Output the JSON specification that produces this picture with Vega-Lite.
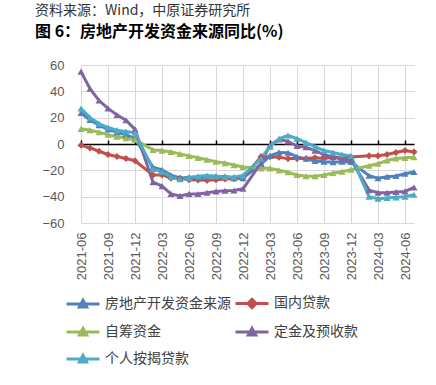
{
  "$schema": "https://vega.github.io/schema/vega-lite/v6.json",
  "width": 333,
  "height": 158,
  "autosize": {"type": "none"},
  "padding": {"left": 81, "top": 65, "right": 22, "bottom": 162},
  "background": "white",
  "config": {"view": {"stroke": null}, "font": "Liberation Sans"},
  "title": {
    "text": "资料来源：Wind，中原证券研究所",
    "subtitle": "图 6：房地产开发资金来源同比(%)",
    "anchor": "start",
    "frame": "group",
    "dx": -46,
    "offset": 19,
    "font": "Noto Sans CJK SC",
    "fontSize": 14,
    "fontWeight": "normal",
    "color": "#333333",
    "subtitleFont": "Noto Sans CJK SC",
    "subtitleFontSize": 16,
    "subtitleFontWeight": "bold",
    "subtitleColor": "#000000",
    "subtitlePadding": 6
  },
  "data": {
    "values": [
      {"m": "2021-06", "房地产开发资金来源": 23.5, "国内贷款": -1, "自筹资金": 11.5, "定金及预收款": 55, "个人按揭贷款": 27},
      {"m": "2021-07", "房地产开发资金来源": 18.2, "国内贷款": -3, "自筹资金": 10.5, "定金及预收款": 42, "个人按揭贷款": 20},
      {"m": "2021-08", "房地产开发资金来源": 14.3, "国内贷款": -5.5, "自筹资金": 9, "定金及预收款": 33, "个人按揭贷款": 15.5},
      {"m": "2021-09", "房地产开发资金来源": 11.1, "国内贷款": -8, "自筹资金": 7, "定金及预收款": 27, "个人按揭贷款": 12.5},
      {"m": "2021-10", "房地产开发资金来源": 8.8, "国内贷款": -9.5, "自筹资金": 5.5, "定金及预收款": 22, "个人按揭贷款": 10.5},
      {"m": "2021-11", "房地产开发资金来源": 6.9, "国内贷款": -11, "自筹资金": 4.5, "定金及预收款": 18, "个人按揭贷款": 9.5},
      {"m": "2021-12", "房地产开发资金来源": 4.2, "国内贷款": -12.7, "自筹资金": 3.2, "定金及预收款": 11.1, "个人按揭贷款": 8.5},
      {"m": "2022-02", "房地产开发资金来源": -17.7, "国内贷款": -23.6, "自筹资金": -4.5, "定金及预收款": -29, "个人按揭贷款": -19},
      {"m": "2022-03", "房地产开发资金来源": -19.6, "国内贷款": -23.5, "自筹资金": -5, "定金及预收款": -32, "个人按揭贷款": -21},
      {"m": "2022-04", "房地产开发资金来源": -23.6, "国内贷款": -25.9, "自筹资金": -6, "定金及预收款": -37.9, "个人按揭贷款": -25},
      {"m": "2022-05", "房地产开发资金来源": -25.8, "国内贷款": -26, "自筹资金": -7.5, "定金及预收款": -39.4, "个人按揭贷款": -26.8},
      {"m": "2022-06", "房地产开发资金来源": -25.3, "国内贷款": -27.2, "自筹资金": -9, "定金及预收款": -37.9, "个人按揭贷款": -25.5},
      {"m": "2022-07", "房地产开发资金来源": -25.4, "国内贷款": -27.4, "自筹资金": -10.5, "定金及预收款": -38, "个人按揭贷款": -24.5},
      {"m": "2022-08", "房地产开发资金来源": -25, "国内贷款": -27.6, "自筹资金": -12, "定金及预收款": -37, "个人按揭贷款": -24},
      {"m": "2022-09", "房地产开发资金来源": -24.5, "国内贷款": -27.2, "自筹资金": -13.5, "定金及预收款": -36, "个人按揭贷款": -24.5},
      {"m": "2022-10", "房地产开发资金来源": -24.7, "国内贷款": -26.6, "自筹资金": -14.5, "定金及预收款": -35.5, "个人按揭贷款": -25},
      {"m": "2022-11", "房地产开发资金来源": -25.9, "国内贷款": -26.3, "自筹资金": -16, "定金及预收款": -35.3, "个人按揭贷款": -25},
      {"m": "2022-12", "房地产开发资金来源": -25.9, "国内贷款": -25.9, "自筹资金": -17.5, "定金及预收款": -34, "个人按揭贷款": -24},
      {"m": "2023-02", "房地产开发资金来源": -15.2, "国内贷款": -9.6, "自筹资金": -18.5, "定金及预收款": -14.5, "个人按揭贷款": -11},
      {"m": "2023-03", "房地产开发资金来源": -9, "国内贷款": -9.6, "自筹资金": -18.5, "定金及预收款": -1, "个人按揭贷款": -2},
      {"m": "2023-04", "房地产开发资金来源": -6.4, "国内贷款": -10, "自筹资金": -20, "定金及预收款": 3.5, "个人按揭贷款": 4},
      {"m": "2023-05", "房地产开发资金来源": -6.6, "国内贷款": -11.1, "自筹资金": -21.5, "定金及预收款": 2, "个人按揭贷款": 6.5},
      {"m": "2023-06", "房地产开发资金来源": -9.8, "国内贷款": -11.1, "自筹资金": -23.5, "定金及预收款": -1.5, "个人按揭贷款": 4},
      {"m": "2023-07", "房地产开发资金来源": -11.2, "国内贷款": -11.1, "自筹资金": -24.5, "定金及预收款": -2.5, "个人按揭贷款": 1},
      {"m": "2023-08", "房地产开发资金来源": -12.9, "国内贷款": -10.5, "自筹资金": -24.5, "定金及预收款": -5, "个人按揭贷款": -2},
      {"m": "2023-09", "房地产开发资金来源": -13.5, "国内贷款": -11, "自筹资金": -23.5, "定金及预收款": -8, "个人按揭贷款": -5},
      {"m": "2023-10", "房地产开发资金来源": -13.8, "国内贷款": -10, "自筹资金": -22, "定金及预收款": -10, "个人按揭贷款": -6.5},
      {"m": "2023-11", "房地产开发资金来源": -13.4, "国内贷款": -10, "自筹资金": -21, "定金及预收款": -11.5, "个人按揭贷款": -8},
      {"m": "2023-12", "房地产开发资金来源": -13.6, "国内贷款": -9.9, "自筹资金": -19.5, "定金及预收款": -11.9, "个人按揭贷款": -9.1},
      {"m": "2024-02", "房地产开发资金来源": -24.1, "国内贷款": -9, "自筹资金": -16.5, "定金及预收款": -35, "个人按揭贷款": -40},
      {"m": "2024-03", "房地产开发资金来源": -26, "国内贷款": -9, "自筹资金": -15, "定金及预收款": -37, "个人按揭贷款": -41.5},
      {"m": "2024-04", "房地产开发资金来源": -24.9, "国内贷款": -8, "自筹资金": -12.5, "定金及预收款": -37, "个人按揭贷款": -41},
      {"m": "2024-05", "房地产开发资金来源": -24.3, "国内贷款": -6.5, "自筹资金": -11, "定金及预收款": -36.5, "个人按揭贷款": -40.5},
      {"m": "2024-06", "房地产开发资金来源": -22.6, "国内贷款": -5, "自筹资金": -10.5, "定金及预收款": -36, "个人按揭贷款": -40},
      {"m": "2024-07", "房地产开发资金来源": -21.3, "国内贷款": -6, "自筹资金": -10, "定金及预收款": -33, "个人按揭贷款": -38.5}
    ]
  },
  "transform": [
    {"fold": ["房地产开发资金来源", "国内贷款", "自筹资金", "定金及预收款", "个人按揭贷款"], "as": ["s", "v"]}
  ],
  "encoding": {
    "x": {
      "field": "m",
      "type": "ordinal",
      "scale": {
        "type": "point",
        "padding": 0,
        "domain": ["2021-06","2021-07","2021-08","2021-09","2021-10","2021-11","2021-12","2022-01","2022-02","2022-03","2022-04","2022-05","2022-06","2022-07","2022-08","2022-09","2022-10","2022-11","2022-12","2023-01","2023-02","2023-03","2023-04","2023-05","2023-06","2023-07","2023-08","2023-09","2023-10","2023-11","2023-12","2024-01","2024-02","2024-03","2024-04","2024-05","2024-06","2024-07"]
      }
    },
    "y": {
      "field": "v",
      "type": "quantitative",
      "scale": {"domain": [-60, 60], "nice": false, "zero": false},
      "axis": {
        "title": null,
        "values": [-60, -40, -20, 0, 20, 40, 60],
        "grid": true,
        "gridColor": "#D9D9D9",
        "gridWidth": 1,
        "domain": false,
        "ticks": false,
        "labelPadding": 17,
        "labelColor": "#595959",
        "labelFontSize": 13,
        "labelFont": "Liberation Sans"
      }
    },
    "color": {
      "field": "s",
      "type": "nominal",
      "scale": {
        "domain": ["房地产开发资金来源", "国内贷款", "自筹资金", "定金及预收款", "个人按揭贷款"],
        "range": ["#4F81BD", "#C0504D", "#9BBB59", "#8064A2", "#4BACC6"]
      }
    }
  },
  "layer": [
    {
      "mark": {"type": "line", "strokeWidth": 3},
      "encoding": {
        "x": {
          "field": "m",
          "type": "ordinal",
          "axis": {
            "title": null,
            "values": ["2021-06","2021-09","2021-12","2022-03","2022-06","2022-09","2022-12","2023-03","2023-06","2023-09","2023-12","2024-03","2024-06"],
            "labelAngle": -90,
            "labelPadding": 9,
            "labelColor": "#595959",
            "labelFontSize": 13,
            "labelFont": "Liberation Sans",
            "grid": true,
            "gridColor": "#D9D9D9",
            "gridWidth": 1,
            "domain": false,
            "ticks": false
          }
        },
        "color": {
          "field": "s",
          "type": "nominal",
          "legend": {
            "title": null,
            "orient": "none",
            "direction": "horizontal",
            "legendX": -16,
            "legendY": 220,
            "columns": 2,
            "columnPadding": -2,
            "rowPadding": -4,
            "symbolSize": 1089,
            "symbolStrokeWidth": 3,
            "labelFont": "Noto Sans CJK SC",
            "labelFontSize": 14,
            "labelColor": "#404040",
            "labelOffset": 4,
            "encode": {
              "symbols": {
                "update": {
                  "shape": {"signal": "datum.value === '国内贷款' ? 'M-1,0L1,0M0,-0.25L0.25,0L0,0.25L-0.25,0Z' : 'M-1,0L1,0M-0.22,0.18L0,-0.22L0.22,0.18Z'"},
                  "fill": {"signal": "scale('color', datum.value)"},
                  "stroke": {"signal": "scale('color', datum.value)"},
                  "strokeWidth": {"value": 3},
                  "opacity": {"value": 1}
                }
              }
            }
          }
        }
      }
    },
    {
      "transform": [{"filter": "datum.s === '国内贷款'"}],
      "mark": {"type": "point", "filled": true, "opacity": 1, "size": 50, "shape": "diamond"},
      "encoding": {
        "x": {
          "field": "m",
          "type": "ordinal",
          "axis": {
            "title": null,
            "values": ["2021-06","2021-09","2021-12","2022-03","2022-06","2022-09","2022-12","2023-03","2023-06","2023-09","2023-12","2024-03","2024-06"],
            "offset": -79,
            "labels": false,
            "grid": false,
            "domain": true,
            "domainColor": "#000000",
            "domainWidth": 1.5,
            "ticks": true,
            "tickColor": "#000000",
            "tickWidth": 1.5,
            "tickSize": 4
          }
        },
        "color": {"field": "s", "type": "nominal", "legend": null}
      }
    },
    {
      "transform": [{"filter": "datum.s !== '国内贷款'"}],
      "mark": {"type": "point", "filled": true, "opacity": 1, "size": 50, "shape": "triangle-up"},
      "encoding": {
        "x": {"field": "m", "type": "ordinal", "axis": null},
        "color": {"field": "s", "type": "nominal", "legend": null}
      }
    }
  ],
  "resolve": {"axis": {"x": "independent"}}
}
